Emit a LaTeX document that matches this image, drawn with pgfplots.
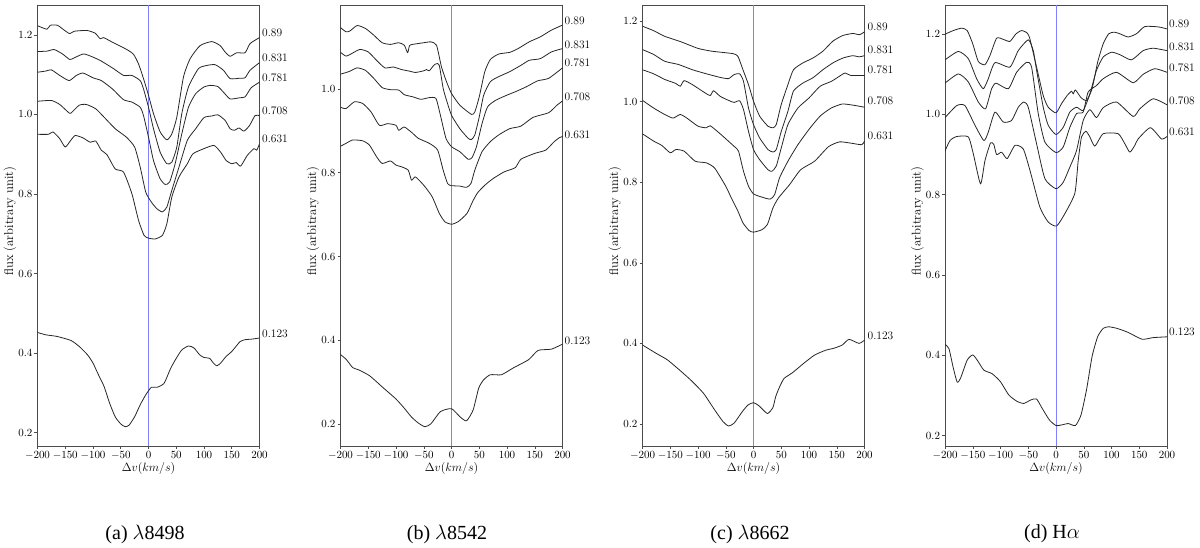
\documentclass[border=0pt]{standalone}
\usepackage{pgfplots}
\pgfplotsset{compat=1.18}
\usepackage{fontspec}
\newfontfamily\capfont{Liberation Serif}
\definecolor{axgray}{gray}{0.3}
\definecolor{zeroblue}{rgb}{0.5,0.5,1}
\pgfplotsset{
  panel/.style={
    scale only axis, width=222pt, height=441pt, anchor=south west,
    xmin=-200, xmax=200, clip=true,
    xtick={-200,-150,-100,-50,0,50,100,150,200},
    tick align=outside, tick pos=left,
    major tick length=3pt,
    tick style={axgray, line width=0.5pt},
    axis line style={axgray, line width=0.7pt},
    tick label style={font=\fontsize{10.5}{12}\selectfont},
    xticklabel style={yshift=1.5pt},
    yticklabel style={xshift=1.5pt},
    yticklabel style={/pgf/number format/fixed, /pgf/number format/precision=1, /pgf/number format/fixed zerofill},
    xlabel={$\Delta v(km/s)$},
    ylabel={flux (arbitrary unit)},
    every axis x label/.style={at={(axis description cs:0.5,-0.052)}, anchor=center, font=\fontsize{12.7}{15}\selectfont},
    every axis y label/.style={at={(axis description cs:-0.124,0.51)}, anchor=center, rotate=90, font=\fontsize{12.7}{15}\selectfont},
    every axis plot/.append style={no markers},
  },
  spec/.style={black!85, line width=0.8pt, smooth, tension=0.35, line join=round},
  zero/.style={zeroblue, line width=1pt},
}
\newcommand{\lab}[3]{\node[anchor=west, inner sep=0pt, font=\fontsize{11.5}{13}\selectfont] at (#1pt,{(548-#2)*1pt}) {#3};}
\begin{document}
\begin{tikzpicture}[x=1pt,y=1pt]
\path (0pt,0pt) rectangle (1200pt,548pt);

% ---------- (a)
\begin{axis}[panel, at={(37.5pt,102pt)}, ymin=0.1666, ymax=1.275, ytick={0.2,0.4,...,1.21}]
\addplot[zero] coordinates {(0,0.1666)(0,1.275)};
\addplot[spec] coordinates {(-200,1.223)(-183,1.214)(-177,1.224)(-164,1.224)(-153,1.213)(-142,1.203)(-134,1.209)(-111,1.211)(-96,1.204)(-87,1.190)(-81,1.193)(-63,1.180)(-39,1.163)(-27,1.151)(-18,1.127)(-9,1.090)(0,1.048)(9,1.002)(21,0.956)(33,0.936)(42,0.951)(51,0.993)(63,1.094)(75,1.140)(93,1.173)(114,1.183)(129,1.173)(138,1.157)(147,1.146)(159,1.155)(174,1.155)(183,1.178)(200,1.193)};
\addplot[spec] coordinates {(-200,1.158)(-183,1.159)(-170,1.163)(-155,1.152)(-142,1.138)(-134,1.142)(-117,1.152)(-100,1.144)(-85,1.134)(-63,1.115)(-45,1.098)(-30,1.098)(-15,1.085)(-9,1.064)(0,1.018)(9,0.964)(21,0.905)(33,0.876)(42,0.880)(51,0.918)(60,1.002)(72,1.069)(90,1.115)(105,1.123)(120,1.125)(135,1.111)(147,1.090)(165,1.091)(174,1.092)(183,1.111)(200,1.130)};
\addplot[spec] coordinates {(-200,1.106)(-185,1.109)(-175,1.112)(-160,1.098)(-143,1.085)(-130,1.098)(-118,1.104)(-100,1.092)(-85,1.085)(-65,1.064)(-45,1.037)(-30,1.031)(-15,1.018)(-9,0.997)(0,0.943)(9,0.884)(21,0.838)(30,0.824)(38,0.830)(48,0.876)(60,0.951)(72,1.018)(85,1.052)(100,1.069)(112,1.073)(125,1.070)(135,1.056)(147,1.039)(165,1.042)(174,1.044)(185,1.067)(200,1.081)};
\addplot[spec] coordinates {(-200,1.033)(-175,1.035)(-160,1.025)(-145,1.006)(-140,1.003)(-125,1.023)(-112,1.025)(-95,1.014)(-80,0.993)(-60,0.964)(-40,0.943)(-25,0.918)(-15,0.868)(-5,0.805)(5,0.780)(15,0.763)(25,0.755)(33,0.767)(42,0.809)(55,0.868)(70,0.935)(85,0.964)(100,0.992)(114,0.996)(125,0.999)(138,0.985)(147,0.964)(155,0.960)(163,0.966)(172,0.958)(182,0.972)(192,0.997)(200,0.997)};
\addplot[spec] coordinates {(-200,0.950)(-180,0.950)(-172,0.956)(-160,0.939)(-150,0.918)(-140,0.935)(-132,0.947)(-118,0.941)(-105,0.930)(-95,0.933)(-85,0.910)(-75,0.899)(-60,0.863)(-45,0.855)(-30,0.801)(-18,0.734)(-8,0.696)(0,0.689)(12,0.687)(25,0.696)(33,0.725)(42,0.792)(55,0.843)(70,0.876)(80,0.901)(100,0.914)(118,0.922)(130,0.905)(140,0.884)(150,0.876)(158,0.879)(166,0.870)(178,0.897)(190,0.914)(195,0.910)(200,0.926)};
\addplot[spec] coordinates {(-200,0.452)(-185,0.446)(-165,0.442)(-140,0.432)(-125,0.417)(-110,0.396)(-100,0.375)(-90,0.345)(-80,0.316)(-70,0.274)(-60,0.240)(-50,0.222)(-42,0.215)(-35,0.219)(-25,0.240)(-15,0.270)(-5,0.295)(5,0.314)(15,0.314)(28,0.324)(40,0.362)(50,0.387)(60,0.408)(72,0.418)(82,0.413)(92,0.396)(100,0.389)(110,0.387)(117,0.375)(123,0.368)(130,0.375)(140,0.392)(150,0.404)(165,0.429)(175,0.434)(185,0.435)(200,0.438)};
\end{axis}

% ---------- (b)
\begin{axis}[panel, at={(340.5pt,102pt)}, ymin=0.148, ymax=1.2, ytick={0.2,0.4,...,1.01}]
\addplot[zero] coordinates {(0,0.148)(0,1.2)};
\addplot[spec] coordinates {(-200,1.146)(-190,1.136)(-183,1.138)(-170,1.151)(-155,1.144)(-140,1.128)(-125,1.110)(-110,1.106)(-95,1.110)(-85,1.104)(-79,1.086)(-75,1.104)(-60,1.108)(-50,1.110)(-37,1.112)(-27,1.104)(-18,1.052)(-9,1.017)(0,0.989)(15,0.961)(36,0.939)(42,0.945)(50,0.981)(60,1.041)(70,1.070)(85,1.083)(105,1.087)(120,1.096)(140,1.112)(160,1.124)(180,1.140)(200,1.152)};
\addplot[spec] coordinates {(-200,1.087)(-190,1.078)(-180,1.084)(-165,1.094)(-150,1.088)(-135,1.068)(-120,1.050)(-105,1.052)(-90,1.046)(-75,1.042)(-65,1.039)(-50,1.043)(-45,1.046)(-40,1.043)(-32,1.056)(-27,1.060)(-22,1.056)(-15,1.001)(-9,0.973)(0,0.937)(15,0.905)(30,0.882)(36,0.879)(42,0.890)(50,0.933)(58,0.985)(70,1.017)(85,1.029)(105,1.041)(125,1.056)(140,1.068)(160,1.072)(180,1.088)(200,1.096)};
\addplot[spec] coordinates {(-200,1.035)(-185,1.041)(-170,1.050)(-155,1.044)(-140,1.025)(-125,1.003)(-110,0.998)(-95,0.997)(-85,0.986)(-70,0.981)(-55,0.975)(-40,0.979)(-28,0.977)(-20,0.937)(-10,0.882)(0,0.862)(15,0.850)(30,0.832)(37,0.836)(45,0.862)(55,0.917)(65,0.957)(80,0.973)(100,0.985)(115,0.993)(135,1.005)(155,1.019)(175,1.025)(200,1.050)};
\addplot[spec] coordinates {(-200,0.956)(-190,0.953)(-175,0.969)(-160,0.965)(-145,0.945)(-130,0.913)(-115,0.917)(-100,0.913)(-95,0.901)(-85,0.909)(-70,0.894)(-60,0.882)(-40,0.870)(-25,0.854)(-15,0.806)(-7,0.774)(0,0.769)(15,0.768)(27,0.765)(35,0.774)(42,0.806)(55,0.850)(70,0.874)(85,0.890)(105,0.905)(125,0.911)(147,0.932)(175,0.943)(190,0.961)(200,0.971)};
\addplot[spec] coordinates {(-200,0.863)(-190,0.870)(-178,0.878)(-160,0.876)(-148,0.866)(-135,0.838)(-125,0.822)(-110,0.828)(-100,0.818)(-90,0.814)(-78,0.806)(-72,0.782)(-65,0.790)(-50,0.770)(-35,0.743)(-22,0.703)(-12,0.683)(0,0.677)(12,0.683)(28,0.703)(38,0.731)(47,0.752)(60,0.770)(75,0.786)(95,0.802)(115,0.812)(125,0.832)(150,0.846)(170,0.854)(185,0.874)(195,0.884)(200,0.886)};
\addplot[spec] coordinates {(-200,0.366)(-190,0.355)(-178,0.335)(-168,0.330)(-148,0.316)(-124,0.288)(-100,0.260)(-85,0.238)(-72,0.217)(-60,0.203)(-48,0.194)(-37,0.201)(-20,0.230)(0,0.237)(15,0.218)(27,0.208)(39,0.234)(49,0.286)(58,0.306)(70,0.318)(90,0.318)(111,0.334)(139,0.354)(156,0.376)(180,0.379)(200,0.391)};
\end{axis}

% ---------- (c)
\begin{axis}[panel, at={(642.5pt,102pt)}, ymin=0.1454, ymax=1.2397, ytick={0.2,0.4,...,1.21}]
\addplot[zero] coordinates {(0,0.1454)(0,1.2397)};
\addplot[spec] coordinates {(-200,1.187)(-180,1.176)(-160,1.162)(-130,1.148)(-100,1.132)(-75,1.125)(-37,1.119)(-28,1.112)(-19,1.079)(-9,1.042)(0,1.001)(11,0.964)(26,0.939)(35,0.935)(41,0.943)(50,0.993)(62,1.042)(72,1.079)(89,1.096)(107,1.108)(125,1.125)(143,1.150)(161,1.164)(179,1.169)(191,1.166)(200,1.173)};
\addplot[spec] coordinates {(-200,1.129)(-180,1.117)(-160,1.100)(-135,1.092)(-110,1.079)(-85,1.069)(-60,1.060)(-45,1.057)(-35,1.067)(-25,1.069)(-18,1.050)(-9,0.984)(0,0.943)(11,0.910)(26,0.881)(35,0.875)(41,0.881)(50,0.926)(62,0.976)(72,1.026)(89,1.046)(107,1.059)(125,1.079)(143,1.096)(161,1.108)(179,1.114)(190,1.111)(200,1.114)};
\addplot[spec] coordinates {(-200,1.079)(-180,1.069)(-160,1.055)(-140,1.045)(-132,1.038)(-125,1.052)(-110,1.042)(-90,1.024)(-78,1.015)(-72,1.027)(-60,1.013)(-45,1.003)(-35,0.998)(-25,1.002)(-18,0.980)(-9,0.926)(0,0.881)(11,0.856)(26,0.831)(33,0.827)(41,0.840)(50,0.885)(62,0.943)(80,0.984)(100,1.009)(120,1.038)(140,1.050)(155,1.063)(165,1.071)(175,1.065)(200,1.065)};
\addplot[spec] coordinates {(-200,1.003)(-180,0.984)(-160,0.968)(-145,0.959)(-132,0.968)(-120,0.959)(-100,0.939)(-85,0.935)(-78,0.940)(-60,0.920)(-35,0.889)(-27,0.877)(-18,0.827)(-9,0.790)(0,0.771)(15,0.763)(30,0.758)(38,0.769)(47,0.811)(62,0.852)(80,0.893)(100,0.931)(120,0.964)(140,0.984)(160,0.994)(180,0.991)(200,0.986)};
\addplot[spec] coordinates {(-200,0.920)(-180,0.902)(-165,0.891)(-150,0.873)(-140,0.881)(-125,0.877)(-105,0.852)(-85,0.848)(-70,0.835)(-50,0.790)(-40,0.761)(-28,0.728)(-19,0.699)(-8,0.680)(0,0.676)(15,0.682)(25,0.695)(35,0.736)(45,0.761)(65,0.794)(85,0.831)(110,0.852)(135,0.888)(155,0.900)(175,0.897)(195,0.893)(200,0.902)};
\addplot[spec] coordinates {(-200,0.396)(-175,0.375)(-155,0.359)(-130,0.330)(-110,0.305)(-90,0.276)(-70,0.235)(-55,0.206)(-45,0.195)(-35,0.202)(-20,0.231)(-10,0.247)(0,0.253)(10,0.245)(25,0.226)(35,0.241)(40,0.268)(47,0.292)(55,0.313)(70,0.327)(90,0.350)(110,0.371)(130,0.383)(145,0.388)(160,0.396)(172,0.410)(190,0.400)(200,0.408)};
\end{axis}

% ---------- (d)
\begin{axis}[panel, at={(945pt,102pt)}, ymin=0.174, ymax=1.2727, ytick={0.2,0.4,...,1.21}]
\addplot[zero] coordinates {(0,0.174)(0,1.2727)};
\addplot[spec] coordinates {(-200,1.200)(-185,1.209)(-170,1.215)(-160,1.209)(-150,1.176)(-140,1.132)(-128,1.124)(-119,1.147)(-107,1.190)(-95,1.187)(-83,1.182)(-72,1.201)(-62,1.209)(-52,1.203)(-47,1.188)(-35,1.118)(-23,1.047)(-14,1.018)(0,1.004)(10,1.027)(20,1.047)(28,1.058)(31,1.051)(35,1.061)(45,1.042)(55,1.035)(65,1.064)(75,1.130)(85,1.176)(95,1.201)(105,1.205)(115,1.201)(130,1.193)(145,1.201)(160,1.219)(185,1.218)(200,1.213)};
\addplot[spec] coordinates {(-200,1.136)(-176,1.157)(-158,1.139)(-143,1.089)(-131,1.064)(-122,1.089)(-110,1.129)(-83,1.118)(-68,1.159)(-50,1.186)(-41,1.159)(-35,1.110)(-23,1.018)(-14,0.973)(0,0.950)(13,0.968)(25,1.006)(37,1.018)(49,1.010)(61,1.051)(73,1.110)(85,1.143)(100,1.155)(115,1.149)(136,1.136)(157,1.159)(175,1.165)(200,1.159)};
\addplot[spec] coordinates {(-200,1.078)(-176,1.101)(-158,1.081)(-140,1.031)(-127,1.014)(-116,1.064)(-108,1.078)(-86,1.064)(-71,1.105)(-53,1.130)(-44,1.118)(-32,1.002)(-20,0.931)(0,0.905)(13,0.919)(25,0.968)(37,1.002)(49,1.006)(58,1.056)(73,1.072)(85,1.089)(109,1.105)(139,1.079)(157,1.100)(178,1.114)(200,1.105)};
\addplot[spec] coordinates {(-200,0.992)(-179,1.022)(-164,1.022)(-146,0.973)(-130,0.935)(-122,0.956)(-110,1.006)(-95,0.981)(-80,0.985)(-68,1.018)(-58,1.031)(-50,1.018)(-35,0.927)(-20,0.840)(0,0.815)(13,0.831)(25,0.869)(37,0.910)(49,0.985)(61,1.012)(73,0.992)(85,1.017)(109,1.031)(139,0.995)(151,1.014)(175,1.039)(200,1.024)};
\addplot[spec] coordinates {(-200,0.909)(-191,0.935)(-179,0.945)(-158,0.944)(-149,0.902)(-136,0.827)(-128,0.885)(-118,0.929)(-112,0.925)(-107,0.900)(-98,0.906)(-88,0.890)(-74,0.923)(-59,0.914)(-47,0.861)(-29,0.769)(-14,0.732)(1,0.722)(16,0.753)(34,0.804)(40,0.885)(46,0.944)(54,0.958)(61,0.944)(70,0.921)(85,0.952)(112,0.952)(124,0.927)(133,0.906)(142,0.923)(148,0.939)(170,0.967)(190,0.939)(200,0.945)};
\addplot[spec] coordinates {(-200,0.427)(-193,0.417)(-185,0.368)(-178,0.333)(-172,0.343)(-160,0.388)(-150,0.401)(-142,0.388)(-130,0.363)(-115,0.354)(-100,0.334)(-85,0.301)(-70,0.285)(-58,0.280)(-45,0.289)(-35,0.291)(-25,0.268)(-12,0.239)(0,0.225)(12,0.227)(22,0.230)(35,0.225)(45,0.251)(55,0.314)(65,0.397)(75,0.446)(85,0.467)(95,0.471)(110,0.467)(130,0.457)(155,0.440)(175,0.444)(200,0.446)};
\end{axis}

% value labels
\lab{262}{33}{0.89}\lab{262}{58}{0.831}\lab{262}{78}{0.781}\lab{262}{111}{0.708}\lab{262}{139}{0.631}\lab{262}{334}{0.123}
\lab{564.5}{21}{0.89}\lab{564.5}{45}{0.831}\lab{564.5}{63}{0.781}\lab{564.5}{97}{0.708}\lab{564.5}{135}{0.631}\lab{564.5}{341}{0.123}
\lab{867.5}{27}{0.89}\lab{867.5}{50}{0.831}\lab{867.5}{70}{0.781}\lab{867.5}{101}{0.708}\lab{867.5}{136}{0.631}\lab{867.5}{336}{0.123}
\lab{1169}{24}{0.89}\lab{1169}{47}{0.831}\lab{1169}{68}{0.781}\lab{1169}{101}{0.708}\lab{1169}{132}{0.631}\lab{1169}{332}{0.123}

% captions
\node[font=\capfont\fontsize{20}{23}\selectfont] at (145pt,14pt) {(a) $\lambda$8498};
\node[font=\capfont\fontsize{20}{23}\selectfont] at (447pt,14pt) {(b) $\lambda$8542};
\node[font=\capfont\fontsize{20}{23}\selectfont] at (750pt,14pt) {(c) $\lambda$8662};
\node[font=\capfont\fontsize{20}{23}\selectfont] at (1052pt,14pt) {(d) H$\alpha$};
\end{tikzpicture}
\end{document}
